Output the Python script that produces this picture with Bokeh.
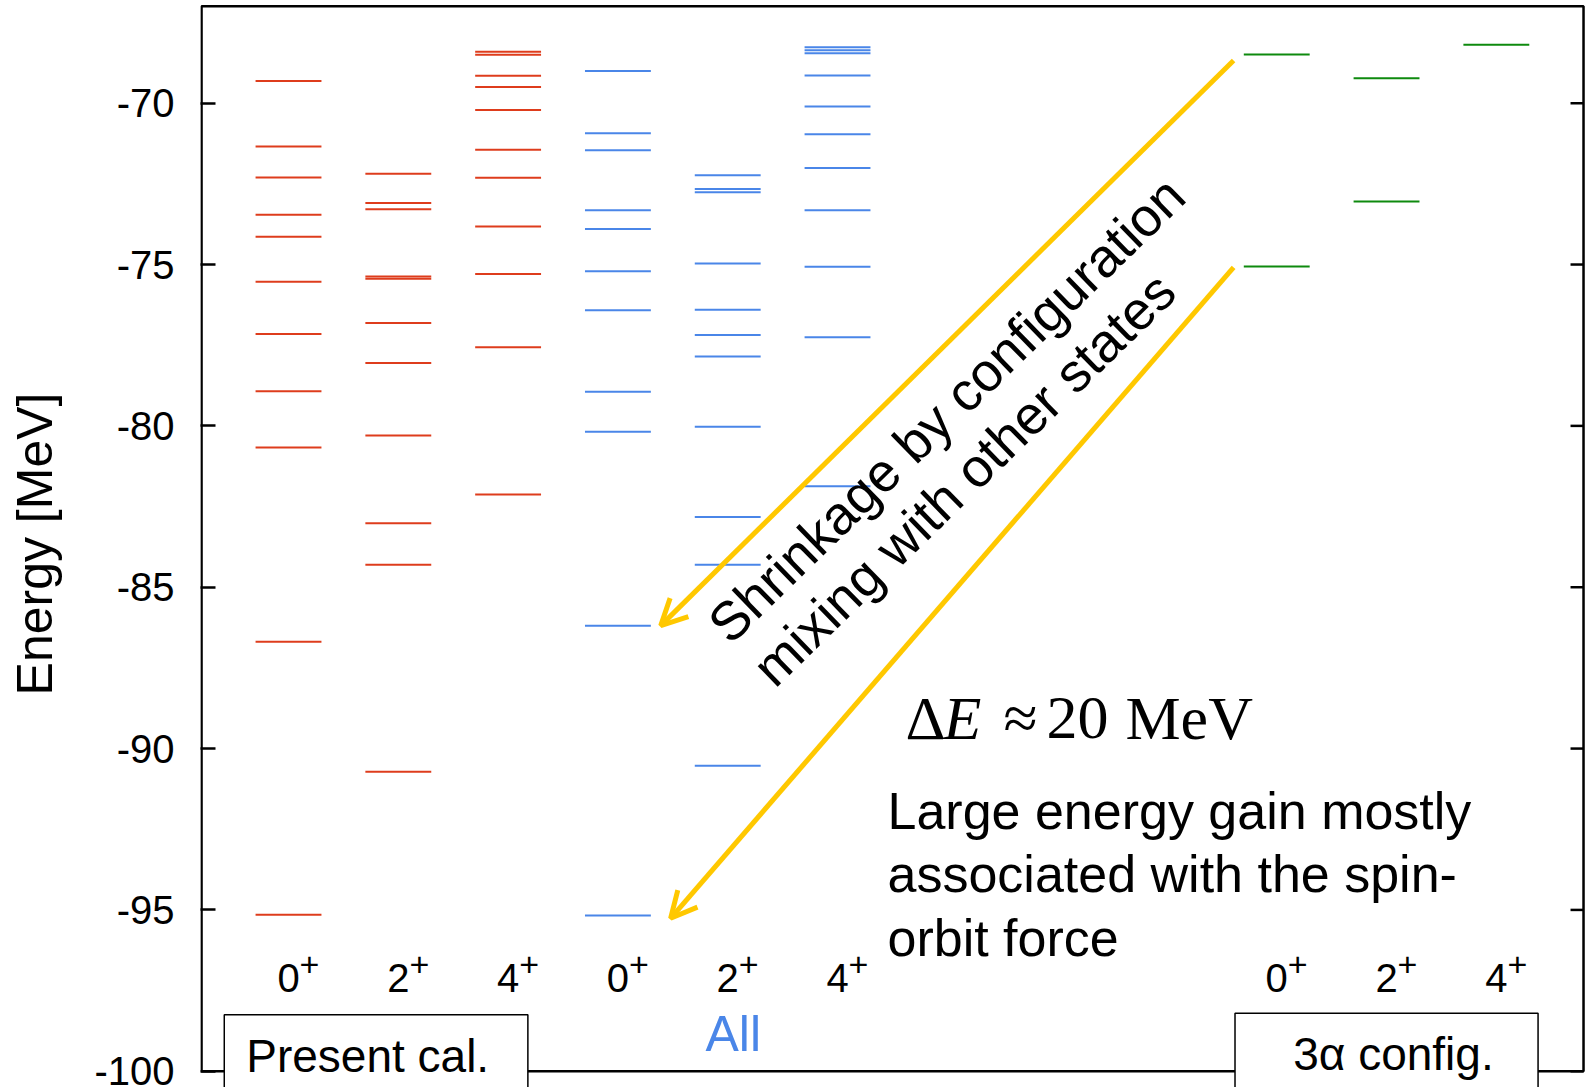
import math
from bokeh.plotting import figure
from bokeh.models import Range1d, FixedTicker, Arrow, OpenHead
from bokeh.core.properties import value
from bokeh.embed import file_html
from bokeh.resources import INLINE

# ---------------- data (energies in MeV) ----------------
present_0 = [-69.31, -71.34, -72.30, -73.46, -74.14, -75.53, -77.15, -78.93, -80.67, -86.69, -95.15]
present_2 = [-72.19, -73.09, -73.29, -75.37, -75.44, -76.81, -78.05, -80.30, -83.02, -84.30, -90.72]
present_4 = [-68.41, -68.50, -69.15, -69.50, -70.21, -71.44, -72.31, -73.82, -75.29, -77.56, -82.13]

all_0 = [-69.00, -70.93, -71.46, -73.32, -73.90, -75.21, -76.42, -78.94, -80.18, -86.19, -95.17]
all_2 = [-72.23, -72.66, -72.76, -74.97, -76.40, -77.18, -77.85, -80.03, -82.82, -84.30, -90.53]
all_4 = [-68.27, -68.36, -68.45, -69.14, -70.10, -70.96, -72.01, -73.32, -75.07, -77.25, -81.87]

alpha_0 = [-68.49, -75.06]
alpha_2 = [-69.23, -73.05]
alpha_4 = [-68.19]

spin_labels = ["0", "2", "4", "0", "2", "4", "0", "2", "4"]
column_x = [0, 1, 2, 3, 4, 5, 9, 10, 11]
y_ticks = [-100, -95, -90, -85, -80, -75, -70]

RED = "#DE3C1C"
BLUE = "#4A86E8"
GREEN = "#0E8A0E"
YELLOW = "#FFC800"
FONT = value("Liberation Sans")
SERIF = value("Liberation Serif")
HALF = 0.3  # half length of a level line

groups = [
    (present_0, 0, RED), (present_2, 1, RED), (present_4, 2, RED),
    (all_0, 3, BLUE), (all_2, 4, BLUE), (all_4, 5, BLUE),
    (alpha_0, 9, GREEN), (alpha_2, 10, GREEN), (alpha_4, 11, GREEN),
]

# ---------------- figure ----------------
p = figure(width=1585, height=1087, output_backend="svg", toolbar_location=None,
           x_range=Range1d(-0.8015, 11.812), y_range=Range1d(-100.503, -66.818),
           x_axis_location=None, y_axis_location="left",
           min_border_left=200, min_border_right=0, min_border_top=0, min_border_bottom=0)
p.outline_line_color = None
p.xgrid.visible = False
p.ygrid.visible = False
p.background_fill_color = "white"
p.border_fill_color = "white"

ax = p.yaxis[0]
ax.ticker = FixedTicker(ticks=y_ticks)
ax.major_label_overrides = {t: str(t) for t in y_ticks}
ax.axis_line_color = None
ax.major_tick_in = 15
ax.major_tick_out = 0
ax.major_tick_line_width = 2.5
ax.minor_tick_line_color = None
ax.major_label_text_font = "Liberation Sans"
ax.major_label_text_font_size = "40px"
ax.major_label_text_color = "black"
ax.major_label_standoff = 26
ax.axis_label = "Energy [MeV]"
ax.axis_label_text_font = "Liberation Sans"
ax.axis_label_text_font_size = "50px"
ax.axis_label_text_font_style = "normal"
ax.axis_label_text_color = "black"
ax.axis_label_standoff = 28

# frame of the data area
p.quad(left=-0.792, right=11.794, bottom=-100, top=-67,
       fill_color=None, line_color="black", line_width=2.5)
# mirrored ticks on the right side of the frame
p.ray(x=[11.794] * len(y_ticks), y=y_ticks, length=13, length_units="screen",
      angle=math.pi, line_color="black", line_width=2.5)

# energy levels
for levels, cx, color in groups:
    p.segment(x0=[cx - HALF] * len(levels), x1=[cx + HALF] * len(levels),
              y0=levels, y1=levels, line_color=color, line_width=2)

# spin labels 0+ 2+ 4+
p.text(x=column_x, y=[-97.10] * len(column_x), text=spin_labels,
       text_font=FONT, text_font_size="40px", text_align="center",
       text_baseline="middle", text_color="black")
p.text(x=column_x, y=[-97.10] * len(column_x), text=["+"] * len(column_x),
       x_offset=21, y_offset=-13,
       text_font=FONT, text_font_size="34px", text_align="center",
       text_baseline="middle", text_color="black")

# label boxes
p.quad(left=[-0.585, 8.62], right=[2.18, 11.38], bottom=[-101.5, -101.5], top=[-98.25, -98.20],
       fill_color="white", line_color="black", line_width=1.5)
p.text(x=[-0.385], y=[-99.52], text=["Present cal."], text_font=FONT,
       text_font_size="46px", text_align="left", text_baseline="middle", text_color="black")
p.text(x=[9.15], y=[-99.45], text=["3α config."], text_font=FONT,
       text_font_size="46px", text_align="left", text_baseline="middle", text_color="black")
p.text(x=[4.05], y=[-98.84], text=["All"], text_font=FONT,
       text_font_size="50px", text_align="center", text_baseline="middle", text_color=BLUE)

# arrows
arrow_start_x = [8.607, 8.607]
arrow_start_y = [-68.68, -75.09]
arrow_end_x = [3.39, 3.48]
arrow_end_y = [-86.19, -95.26]
for xs, ys, xe, ye in zip(arrow_start_x, arrow_start_y, arrow_end_x, arrow_end_y):
    p.add_layout(Arrow(end=OpenHead(size=26, line_color=YELLOW, line_width=5),
                       x_start=xs, y_start=ys, x_end=xe, y_end=ye,
                       line_color=YELLOW, line_width=5))

# rotated annotation
ANG = 0.772
p.text(x=[5.99, 6.15], y=[-79.49, -81.64],
       text=["Shrinkage by configuration", "mixing with other states"],
       angle=ANG, text_font=FONT, text_font_size="54px", text_align="center",
       text_baseline="middle", text_color="black")

# Delta E annotation (pieces placed along one line)
de_x = 5.619
de_y = -89.04
de_parts = ["Δ", "E", "≈", "20", "MeV"]
de_offsets = [0, 38, 98, 141, 220]
de_styles = ["normal", "italic", "normal", "normal", "normal"]
for t, off, st in zip(de_parts, de_offsets, de_styles):
    p.text(x=[de_x], y=[de_y], text=[t], x_offset=off, text_font=SERIF,
           text_font_size="62px", text_font_style=st, text_align="left",
           text_baseline="middle", text_color="black")

# explanation text
p.text(x=[5.455] * 3, y=[-91.95, -93.90, -95.86],
       text=["Large energy gain mostly", "associated with the spin-", "orbit force"],
       text_font=FONT, text_font_size="52px", text_align="left",
       text_baseline="middle", text_color="black")

open("out.html", "w").write(file_html(p, INLINE))
